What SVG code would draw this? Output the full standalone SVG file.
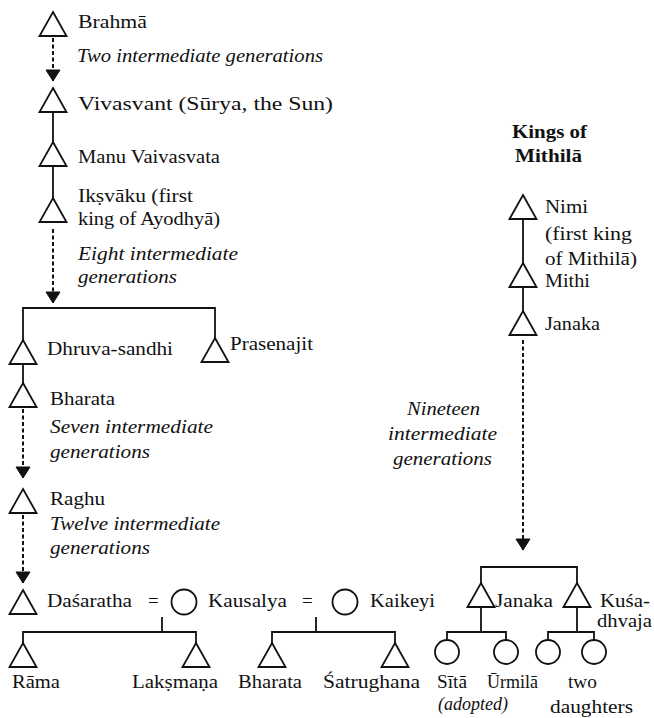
<svg xmlns="http://www.w3.org/2000/svg" xmlns:xlink="http://www.w3.org/1999/xlink" width="654" height="718" viewBox="0 0 654 718">
<style>
.t{font-family:"Liberation Serif","Times New Roman",serif;font-size:19px;fill:#111}
.i{font-style:italic}
.b{font-weight:bold}
.tri{fill:#fff;stroke:#111;stroke-width:1.8;stroke-linejoin:miter}
.cir{fill:#fff;stroke:#111;stroke-width:1.8}
.ln{stroke:#111;stroke-width:1.8;fill:none}
.ds{stroke:#111;stroke-width:2;fill:none;stroke-dasharray:4 2.5}
</style>
<defs>
<path id="tri" d="M0,0 L13.5,24 L-13.5,24 Z"/>
<marker id="ah" markerUnits="userSpaceOnUse" markerWidth="16" markerHeight="14" refX="7" refY="11" viewBox="-1 -1 16 14">
<path d="M0,0 L14,0 L7,11 Z" fill="#111" stroke="#111" stroke-width="1"/>
</marker>
</defs>
<rect width="654" height="718" fill="#fff"/>
<g id="connectors">
<line class="ds" x1="53" y1="38" x2="53" y2="81" marker-end="url(#ah)"/>
<line class="ln" x1="53" y1="112" x2="53" y2="142"/>
<line class="ln" x1="53" y1="166" x2="53" y2="198"/>
<line class="ds" x1="53" y1="229" x2="53" y2="303" marker-end="url(#ah)"/>
<polyline class="ln" points="23,340 23,308 215,308 215,338"/>
<line class="ln" x1="23" y1="364" x2="23" y2="383"/>
<line class="ds" x1="23" y1="409" x2="23" y2="478" marker-end="url(#ah)"/>
<line class="ds" x1="23" y1="515" x2="23" y2="583" marker-end="url(#ah)"/>
<line class="ln" x1="162" y1="617" x2="162" y2="632"/>
<polyline class="ln" points="23,643 23,632 196,632 196,643"/>
<line class="ln" x1="316" y1="617" x2="316" y2="632"/>
<polyline class="ln" points="272,643 272,632 395,632 395,643"/>
<line class="ln" x1="523" y1="219" x2="523" y2="263"/>
<line class="ln" x1="523" y1="287" x2="523" y2="311"/>
<line class="ds" x1="523" y1="340" x2="523" y2="550" marker-end="url(#ah)"/>
<polyline class="ln" points="481,583 481,567 577,567 577,583"/>
<line class="ln" x1="481" y1="607" x2="481" y2="632"/>
<polyline class="ln" points="447,640 447,632 506,632 506,640"/>
<line class="ln" x1="577" y1="607" x2="577" y2="632"/>
<polyline class="ln" points="548,640 548,632 594,632 594,640"/>
</g>
<g id="labels">
<text class="t i" x="77" y="62" textLength="246" lengthAdjust="spacingAndGlyphs">Two intermediate generations</text>
<text class="t i" x="78" y="260" textLength="160" lengthAdjust="spacingAndGlyphs">Eight intermediate</text>
<text class="t i" x="78" y="283" textLength="99" lengthAdjust="spacingAndGlyphs">generations</text>
<text class="t i" x="50" y="433" textLength="163" lengthAdjust="spacingAndGlyphs">Seven intermediate</text>
<text class="t i" x="50" y="458" textLength="100" lengthAdjust="spacingAndGlyphs">generations</text>
<text class="t i" x="50" y="530" textLength="170" lengthAdjust="spacingAndGlyphs">Twelve intermediate</text>
<text class="t i" x="50" y="554" textLength="100" lengthAdjust="spacingAndGlyphs">generations</text>
<text class="t i" x="407" y="415" textLength="73" lengthAdjust="spacingAndGlyphs">Nineteen</text>
<text class="t i" x="388" y="440" textLength="109" lengthAdjust="spacingAndGlyphs">intermediate</text>
<text class="t i" x="393" y="465" textLength="99" lengthAdjust="spacingAndGlyphs">generations</text>
<text class="t b" x="512" y="138" textLength="75" lengthAdjust="spacingAndGlyphs">Kings of</text>
<text class="t b" x="515" y="162" textLength="67" lengthAdjust="spacingAndGlyphs">Mithilā</text>
<text class="t" x="148" y="607">=</text>
<text class="t" x="302" y="607">=</text>
</g>
<g id="brahma"><use href="#tri" class="tri" x="53" y="12"/><text class="t" x="78" y="28" textLength="69" lengthAdjust="spacingAndGlyphs">Brahmā</text></g>
<g id="vivasvant"><use href="#tri" class="tri" x="53" y="88"/><text class="t" x="78" y="110" textLength="255" lengthAdjust="spacingAndGlyphs">Vivasvant (Sūrya, the Sun)</text></g>
<g id="manu"><use href="#tri" class="tri" x="53" y="142"/><text class="t" x="78" y="163" textLength="142" lengthAdjust="spacingAndGlyphs">Manu Vaivasvata</text></g>
<g id="ikshvaku"><use href="#tri" class="tri" x="53" y="198"/><text class="t" x="78" y="202" textLength="115" lengthAdjust="spacingAndGlyphs">Ikṣvāku (first</text><text class="t" x="78" y="225" textLength="142" lengthAdjust="spacingAndGlyphs">king of Ayodhyā)</text></g>
<g id="dhruvasandhi"><use href="#tri" class="tri" x="23" y="340"/><text class="t" x="47" y="355" textLength="126" lengthAdjust="spacingAndGlyphs">Dhruva-sandhi</text></g>
<g id="prasenajit"><use href="#tri" class="tri" x="215" y="338"/><text class="t" x="230" y="350" textLength="83" lengthAdjust="spacingAndGlyphs">Prasenajit</text></g>
<g id="bharata1"><use href="#tri" class="tri" x="23" y="383"/><text class="t" x="50" y="405" textLength="65" lengthAdjust="spacingAndGlyphs">Bharata</text></g>
<g id="raghu"><use href="#tri" class="tri" x="23" y="489"/><text class="t" x="50" y="505" textLength="55" lengthAdjust="spacingAndGlyphs">Raghu</text></g>
<g id="dasaratha"><use href="#tri" class="tri" x="23" y="590"/><text class="t" x="47" y="607" textLength="85" lengthAdjust="spacingAndGlyphs">Daśaratha</text></g>
<g id="kausalya"><circle class="cir" cx="184" cy="602" r="12.5"/><text class="t" x="208" y="607" textLength="79" lengthAdjust="spacingAndGlyphs">Kausalya</text></g>
<g id="kaikeyi"><circle class="cir" cx="345" cy="602" r="12.5"/><text class="t" x="370" y="607" textLength="65" lengthAdjust="spacingAndGlyphs">Kaikeyi</text></g>
<g id="rama"><use href="#tri" class="tri" x="23" y="643"/><text class="t" x="12" y="688" textLength="48" lengthAdjust="spacingAndGlyphs">Rāma</text></g>
<g id="lakshmana"><use href="#tri" class="tri" x="196" y="643"/><text class="t" x="132" y="688" textLength="86" lengthAdjust="spacingAndGlyphs">Lakṣmaṇa</text></g>
<g id="bharata2"><use href="#tri" class="tri" x="272" y="643"/><text class="t" x="238" y="688" textLength="64" lengthAdjust="spacingAndGlyphs">Bharata</text></g>
<g id="shatrughana"><use href="#tri" class="tri" x="395" y="643"/><text class="t" x="323" y="688" textLength="97" lengthAdjust="spacingAndGlyphs">Śatrughana</text></g>
<g id="nimi"><use href="#tri" class="tri" x="523" y="195"/><text class="t" x="545" y="213" textLength="43" lengthAdjust="spacingAndGlyphs">Nimi</text><text class="t" x="545" y="240" textLength="87" lengthAdjust="spacingAndGlyphs">(first king</text><text class="t" x="545" y="265" textLength="92" lengthAdjust="spacingAndGlyphs">of Mithilā)</text></g>
<g id="mithi"><use href="#tri" class="tri" x="523" y="263"/><text class="t" x="545" y="287" textLength="45" lengthAdjust="spacingAndGlyphs">Mithi</text></g>
<g id="janaka1"><use href="#tri" class="tri" x="523" y="311"/><text class="t" x="545" y="330" textLength="55" lengthAdjust="spacingAndGlyphs">Janaka</text></g>
<g id="janaka2"><use href="#tri" class="tri" x="481" y="583"/><text class="t" x="495" y="607" textLength="58" lengthAdjust="spacingAndGlyphs">Janaka</text></g>
<g id="kushadhvaja"><use href="#tri" class="tri" x="577" y="583"/><text class="t" x="600" y="607" textLength="50" lengthAdjust="spacingAndGlyphs">Kuśa-</text><text class="t" x="597" y="627" textLength="55" lengthAdjust="spacingAndGlyphs">dhvaja</text></g>
<g id="sita"><circle class="cir" cx="447" cy="652" r="12"/><text class="t" x="437" y="688" textLength="30" lengthAdjust="spacingAndGlyphs">Sītā</text><text class="t i" x="438" y="710" textLength="70" lengthAdjust="spacingAndGlyphs">(adopted)</text></g>
<g id="urmila"><circle class="cir" cx="506" cy="652" r="12"/><text class="t" x="487" y="688" textLength="51" lengthAdjust="spacingAndGlyphs">Ūrmilā</text></g>
<g id="twodaughters"><circle class="cir" cx="548" cy="652" r="12"/><circle class="cir" cx="594" cy="652" r="12"/><text class="t" x="568" y="688" textLength="29" lengthAdjust="spacingAndGlyphs">two</text><text class="t" x="550" y="713" textLength="83" lengthAdjust="spacingAndGlyphs">daughters</text></g>
</svg>
